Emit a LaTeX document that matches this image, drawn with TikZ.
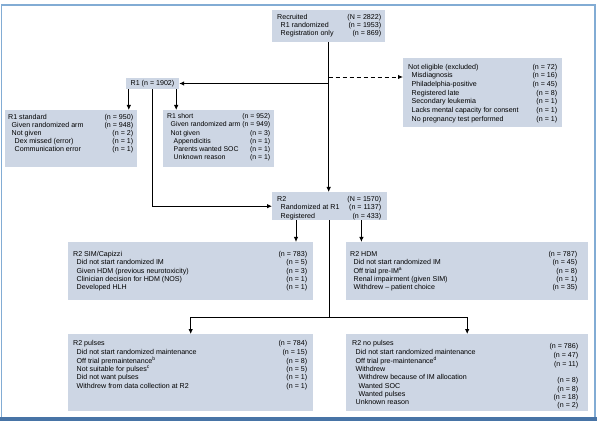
\documentclass[tikz,border=0pt]{standalone}
\usepackage{fontspec}
\setmainfont{Liberation Sans}
\usetikzlibrary{arrows.meta}
\definecolor{boxblue}{RGB}{205,214,228}
\definecolor{framelight}{RGB}{130,172,212}
\definecolor{framedark}{RGB}{72,116,166}
\newcommand\tbf[4]{\fontsize{#4}{#2}\selectfont\begin{tabular*}{#1}[t]{@{}l@{\extracolsep{\fill}}r@{}}#3\end{tabular*}}
\newcommand\tb[3]{\tbf{#1}{#2}{#3}{7.1}}
\newcommand\ia{\hspace*{3.5pt}}
\newcommand\ib{\hspace*{6.5pt}}
\newcommand\lo[1]{\raisebox{-3pt}[0pt][0pt]{#1}}
\tikzset{
  panel/.style={fill=boxblue, draw=none, inner sep=0pt, anchor=north west},
  ptext/.style={inner sep=0pt, anchor=base west},
  conn/.style={draw=black, line width=0.9pt},
  arr/.style={conn, -{Latex[length=5pt,width=4.5pt]}}
}
\begin{document}
\begin{tikzpicture}[x=1pt,y=-1pt]
\useasboundingbox (0,0) rectangle (600,422);
% frame
\draw[framelight, line width=1.3pt] (1.5,417) -- (1.5,5) -- (595,5) -- (595,417);
\fill[framedark] (0,416.5) rectangle (597,421);

% boxes
\node[panel, minimum width=113pt, minimum height=32pt] (rec) at (272,10) {};
\node[ptext] (rect) at (277,19.5) {\tb{104pt}{8.1pt}{Recruited & (N = 2822)\\ \ia R1 randomized & (n = 1953)\\ \ia Registration only & (n = 869)}};

\node[panel, minimum width=159pt, minimum height=69pt] (inel) at (403,58) {};
\node[ptext] (inelt) at (408,69.2) {\tb{149pt}{8.7pt}{Not eligible (excluded) & (n = 72)\\
\ia Misdiagnosis & (n = 16)\\
\ia Philadelphia-positive & (n = 45)\\
\ia Registered late & (n = 8)\\
\ia Secondary leukemia & (n = 1)\\
\ia Lacks mental capacity for consent & (n = 1)\\
\ia No pregnancy test performed & (n = 1)}};

\node[panel, anchor=center, minimum width=53pt, minimum height=11pt, font=\fontsize{7.1}{8.3}\selectfont] (r1) at (152.5,83.5) {R1 (n = 1902)};

\node[panel, minimum width=132pt, minimum height=57pt] (r1std) at (5,110) {};
\node[ptext] (r1stdt) at (8,119.5) {\tb{125pt}{7.9pt}{R1 standard & (n = 950)\\
\ia Given randomized arm & (n = 948)\\
\ia Not given & (n = 2)\\
\ib Dex missed (error) & (n = 1)\\
\ib Communication error & (n = 1)}};

\node[panel, minimum width=111pt, minimum height=57pt] (r1sh) at (163,110) {};
\node[ptext] (r1sht) at (167,118.5) {\tbf{103pt}{8.3pt}{R1 short & (n = 952)\\
\ia Given randomized arm & (n = 949)\\
\ia Not given & (n = 3)\\
\ib Appendicitis & (n = 1)\\
\ib Parents wanted SOC & (n = 1)\\
\ib Unknown reason & (n = 1)}{6.9}};

\node[panel, minimum width=115pt, minimum height=28pt] (r2) at (272,192) {};
\node[ptext] (r2t) at (277,201.5) {\tb{104pt}{8.3pt}{R2 & (N = 1570)\\
\ia Randomized at R1 & (n = 1137)\\
\ia Registered & (n = 433)}};

\node[panel, minimum width=245pt, minimum height=58pt] (sim) at (68,242) {};
\node[ptext] (simt) at (73,256.5) {\tb{234pt}{8.3pt}{R2 SIM/Capizzi & (n = 783)\\
\ia Did not start randomized IM & (n = 5)\\
\ia Given HDM (previous neurotoxicity) & (n = 3)\\
\ia Clinician decision for HDM (NOS) & (n = 1)\\
\ia Developed HLH & (n = 1)}};

\node[panel, minimum width=242pt, minimum height=58pt] (hdm) at (346,242) {};
\node[ptext] (hdmt) at (350,256.5) {\tb{227pt}{8.3pt}{R2 HDM & (n = 787)\\
\ia Did not start randomized IM & (n = 45)\\
\ia Off trial pre-IM\textsuperscript{a} & (n = 8)\\
\ia Renal impairment (given SIM) & (n = 1)\\
\ia Withdrew – patient choice & (n = 35)}};

\node[panel, minimum width=245pt, minimum height=77pt] (pul) at (68,334) {};
\node[ptext] (pult) at (73,345.8) {\tb{234pt}{8.3pt}{R2 pulses & (n = 784)\\
\ia Did not start randomized maintenance & (n = 15)\\
\ia Off trial premaintenance\textsuperscript{b} & (n = 8)\\
\ia Not suitable for pulses\textsuperscript{c} & (n = 5)\\
\ia Did not want pulses & (n = 1)\\
\ia Withdrew from data collection at R2 & (n = 1)}};

\node[panel, minimum width=242pt, minimum height=77pt] (nop) at (346,334) {};
\node[ptext] (nopt) at (352,345.8) {\tb{226pt}{8.3pt}{R2 no pulses & \lo{(n = 786)}\\
\ia Did not start randomized maintenance & \lo{(n = 47)}\\
\ia Off trial pre-maintenance\textsuperscript{d} & \lo{(n = 11)}\\
\ia Withdrew & \\
\ib Withdrew because of IM allocation & \lo{(n = 8)}\\
\ib Wanted SOC & \lo{(n = 8)}\\
\ib Wanted pulses & \lo{(n = 18)}\\
\ia Unknown reason & \lo{(n = 2)}}};

% connectors
\coordinate (dj) at (328.5,77);
\coordinate (sp) at (329.5,317);
\draw[arr] (rec.south) -- (rec.south |- r2.north);
\draw[arr, dashed, dash pattern=on 4pt off 3pt] (dj) -- (dj -| inel.west);
\draw[arr] (rec.south |- r1.east) -- (r1.east);
\draw[arr] ([xshift=3pt]r1.south west) -- ([xshift=3pt]r1.south west |- r1std.north);
\draw[arr] ([xshift=-3pt]r1.south east) -- ([xshift=-3pt]r1.south east |- r1sh.north);
\draw[arr] (r1.south) -- (r1.south |- r2.west) -- (r2.west);
\draw[arr] ([xshift=24pt]r2.south west) -- ([xshift=24pt]r2.south west |- sim.north);
\draw[arr] ([xshift=-26pt]r2.south east) -- ([xshift=-26pt]r2.south east |- hdm.north);
\draw[arr] (r2.south) -- (r2.south |- sp) -| (pul.north);
\draw[arr] (sp) -| (nop.north);
\end{tikzpicture}
\end{document}
